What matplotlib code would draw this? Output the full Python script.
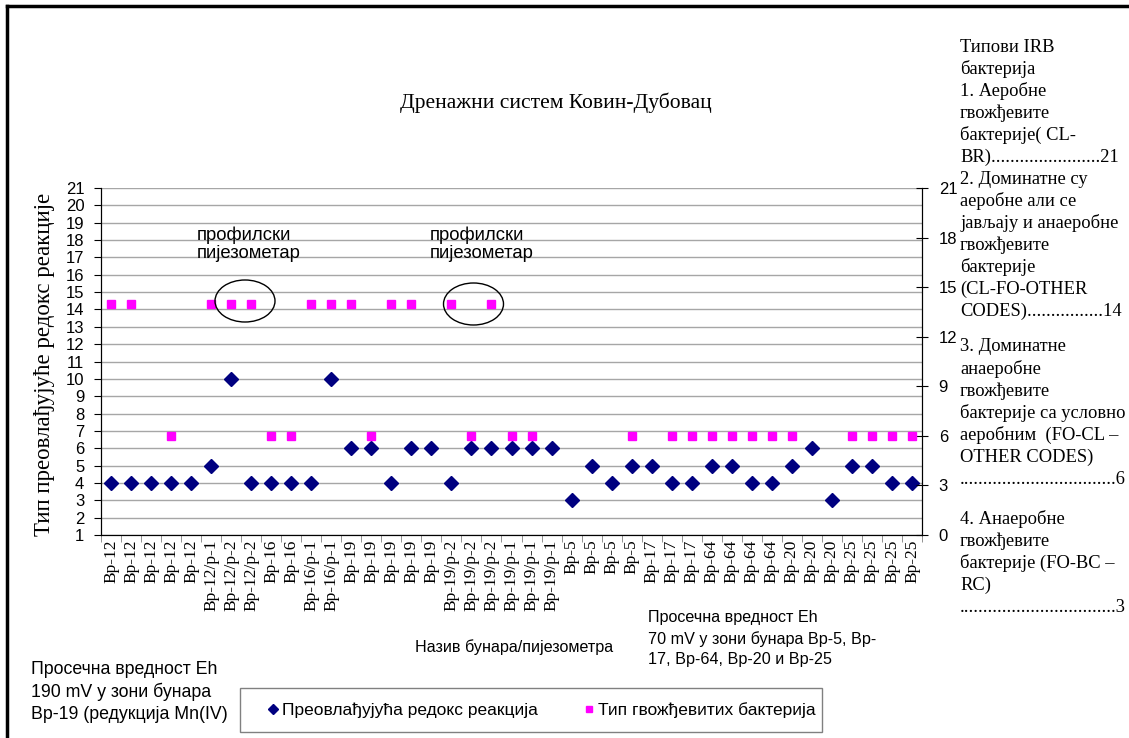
import numpy as np
import matplotlib.pyplot as plt
from matplotlib.patches import Ellipse, Rectangle
from matplotlib.lines import Line2D

# wells / piezometers along the x axis
wells = (["Вр-12"] * 5 + ["Вр-12/р-1"] + ["Вр-12/р-2"] * 2 + ["Вр-16"] * 2
         + ["Вр-16/р-1"] * 2 + ["Вр-19"] * 5 + ["Вр-19/р-2"] * 3
         + ["Вр-19/р-1"] * 3 + ["Вр-5"] * 4 + ["Вр-17"] * 3 + ["Вр-64"] * 4
         + ["Вр-20"] * 3 + ["Вр-25"] * 4)

# prevailing redox reaction (left axis)
redox = [4, 4, 4, 4, 4, 5, 10, 4, 4, 4, 4, 10, 6, 6, 4, 6, 6, 4, 6, 6, 6,
         6, 6, 3, 5, 4, 5, 5, 4, 4, 5, 5, 4, 4, 5, 6, 3, 5, 5, 4, 4]

# iron bacteria type (right axis), nan = no sample
n = np.nan
bacteria = [14, 14, n, 6, n, 14, 14, 14, 6, 6, 14, 14, 14, 6, 14, 14, n, 14, 6, 14, 6,
            6, n, n, n, n, 6, n, 6, 6, 6, 6, 6, 6, 6, n, n, 6, 6, 6, 6]

left_ticks = list(range(1, 22))
right_ticks = list(range(0, 22, 3))

W, H = 1129, 738
def fx(x):
    return x / W
def fy(y):
    return 1 - y / H

fig = plt.figure(figsize=(W / 100, H / 100), dpi=100)
ax = fig.add_axes([fx(101), fy(535), (922 - 101) / W, (535 - 188) / H])
ax2 = ax.twinx()

x = np.arange(len(wells))
ax.plot(x, redox, ls='none', marker='D', ms=7, color='#000080', zorder=3)
ax2.plot(x, bacteria, ls='none', marker='s', ms=5.5, color='#ff00ff', zorder=3)

ax.set_xlim(-0.5, len(wells) - 0.5)
ax.set_ylim(1, 21)
ax2.set_ylim(0, 21)
ax.set_yticks(left_ticks)
ax2.set_yticks(right_ticks)
ax.grid(axis='y', color='#a6a6a6', lw=1)
ax.set_axisbelow(True)

ax.set_xticks(x)
ax.set_xticklabels(wells, rotation=90, family='Liberation Serif', fontsize=12.5)
ax.set_xticks(np.arange(len(wells) + 1) - 0.5, minor=True)
ax.tick_params(axis='x', which='major', length=0, pad=3)
ax.tick_params(axis='x', which='minor', length=5, color='#808080')
ax.tick_params(axis='y', length=5, labelsize=12, pad=7)
ax2.tick_params(axis='y', length=8, direction='inout', labelsize=12, pad=8)
for t in ax.get_yticklabels() + ax2.get_yticklabels():
    t.set_family('Liberation Sans')

ax.spines['top'].set_visible(False)
ax2.spines['top'].set_visible(False)

fig.text(fx(45), fy(364), "Тип преовлађујуће редокс реакције", rotation=90,
         family='Liberation Serif', fontsize=16.5, ha='center', va='center')
fig.text(fx(556), fy(103), "Дренажни систем Ковин-Дубовац",
         family='Liberation Serif', fontsize=15.5, ha='center', va='center')

# annotations for profile piezometers
for xa in (197, 430):
    fig.text(fx(xa), fy(226), "профилски\nпијезометар", family='Liberation Sans',
             fontsize=13.3, ha='left', va='top', linespacing=1.1)
for cx, cy in ((245, 301), (473.5, 304)):
    fig.patches.append(Ellipse((fx(cx), fy(cy)), 60 / W, 42 / H, fill=False,
                               lw=1, edgecolor='black', transform=fig.transFigure))

fig.text(fx(514), fy(647), "Назив бунара/пијезометра", family='Liberation Sans',
         fontsize=11.6, ha='center', va='center')
fig.text(fx(648), fy(610), "Просечна вредност Eh\n70 mV у зони бунара Вр-5, Вр-\n17, Вр-64, Вр-20 и Вр-25",
         family='Liberation Sans', fontsize=11.6, ha='left', va='top', linespacing=1.45)
fig.text(fx(31), fy(661), "Просечна вредност Eh\n190 mV у зони бунара\nВр-19 (редукција Mn(IV)",
         family='Liberation Sans', fontsize=12.8, ha='left', va='top', linespacing=1.35)

# right side description of IRB types
blocks = [
    (47, ["Типови IRB", "бактерија", "1. Аеробне", "гвожђевите", "бактерије( CL-",
          "BR).......................21", "2. Доминатне су", "аеробне али се",
          "јављају и анаеробне", "гвожђевите", "бактерије", "(CL-FO-OTHER",
          "CODES)................14"]),
    (347, ["3. Доминатне", "анаеробне", "гвожђевите", "бактерије са условно",
           "аеробним  (FO-CL –", "OTHER CODES)", ".................................6"]),
    (519, ["4. Анаеробне", "гвожђевите", "бактерије (FO-BC –", "RC)",
           ".................................3"]),
]
for y0, lines in blocks:
    for i, line in enumerate(lines):
        fig.text(fx(960), fy(y0 + i * 22), line, family='Liberation Serif',
                 fontsize=13.3, ha='left', va='center')

# legend with its own box, one entry per series
fig.patches.append(Rectangle((fx(240), fy(732)), 582 / W, 44 / H, fill=False,
                             edgecolor='#808080', lw=1, transform=fig.transFigure))
entries = [(Line2D([], [], ls='none', marker='D', ms=5, color='#000080'),
            "Преовлађујућа редокс реакција", 264),
           (Line2D([], [], ls='none', marker='s', ms=5, color='#ff00ff'),
            "Тип гвожђевитих бактерија", 580)]
for handle, label, xl in entries:
    fig.legend([handle], [label], loc='center left', bbox_to_anchor=(fx(xl), fy(710)),
               frameon=False, prop={'family': 'Liberation Sans', 'size': 12.5},
               handletextpad=0.05, handlelength=1.0, borderpad=0, borderaxespad=0)

# outer frame of the chart object
fig.add_artist(Line2D([fx(7), fx(7)], [fy(6), 0], color='black', lw=2.5,
                      transform=fig.transFigure))
fig.add_artist(Line2D([fx(7), 1], [fy(6), fy(6)], color='black', lw=2.5,
                      transform=fig.transFigure))

fig.savefig("out.png", dpi=100, facecolor='white')
